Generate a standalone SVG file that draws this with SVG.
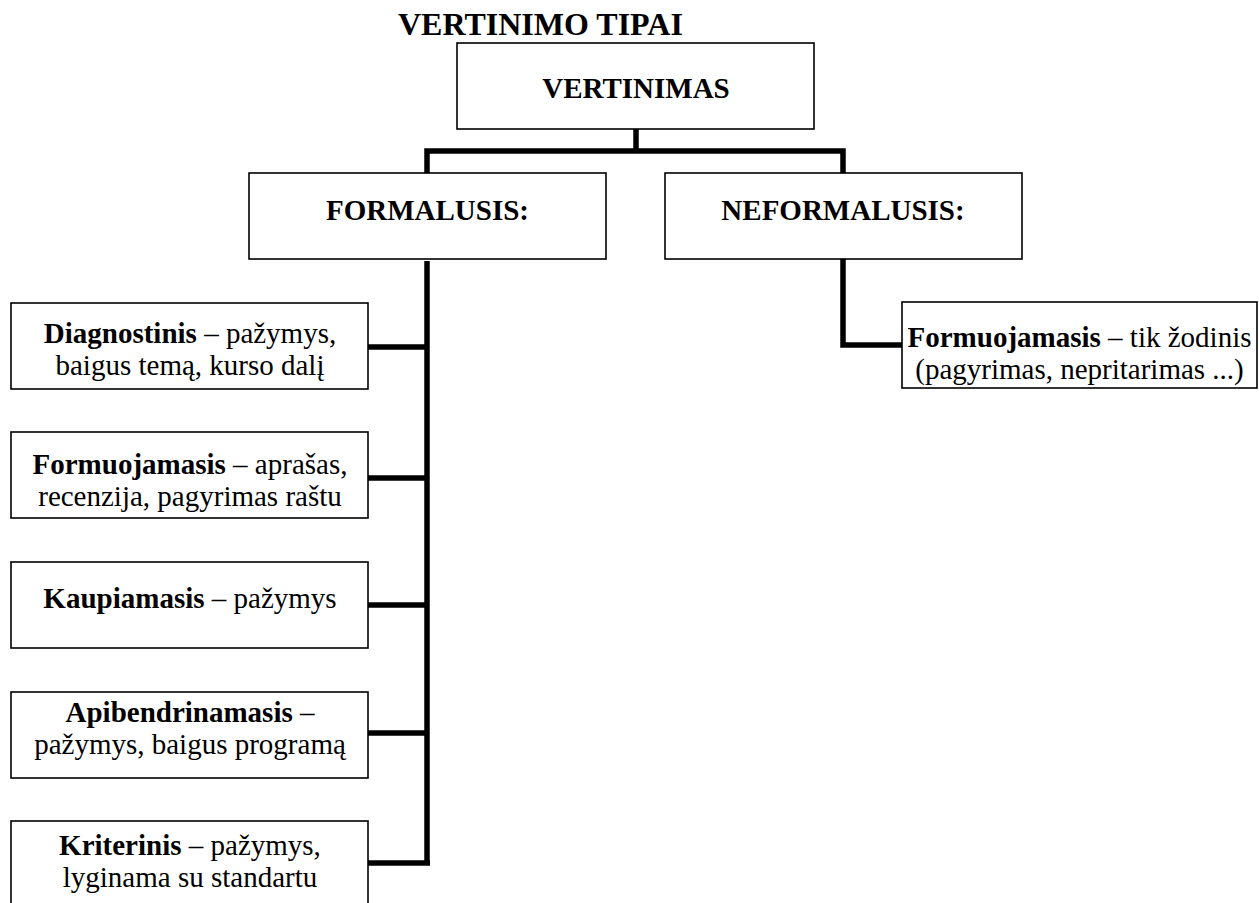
<svg xmlns="http://www.w3.org/2000/svg" width="1259" height="903" viewBox="0 0 1259 903">
<style>
text{font-family:'Liberation Serif','Times New Roman','DejaVu Serif',serif;fill:#000}
.t{font-size:29px;text-anchor:middle}
.h{font-size:29px;font-weight:bold;text-anchor:middle}
.b{font-weight:bold}
.box{fill:#fff;stroke:#000;stroke-width:1.6}
.con{fill:none;stroke:#000;stroke-width:5.5;stroke-linejoin:miter;stroke-linecap:butt}
</style>
<rect width="1259" height="903" fill="#fff"/>
<text x="398" y="35" style="font-size:32px;font-weight:bold">VERTINIMO TIPAI</text>
<g id="connectors">
<path class="con" d="M636 129V151"/>
<path class="con" d="M427 173V151H843V173"/>
<path class="con" d="M427 261V865"/>
<path class="con" d="M368 347H427M368 478H427M368 605H427M368 733H427M368 863H430"/>
<path class="con" d="M843 258V345H902"/>
</g>
<g id="vertinimas">
<rect class="box" x="457" y="43" width="357" height="86"/>
<text class="h" x="636" y="98">VERTINIMAS</text>
</g>
<g id="formalusis">
<rect class="box" x="249" y="173" width="357" height="86"/>
<text class="h" x="427.5" y="220">FORMALUSIS:</text>
</g>
<g id="neformalusis">
<rect class="box" x="665" y="173" width="357" height="86"/>
<text class="h" x="843" y="220">NEFORMALUSIS:</text>
</g>
<g id="diagnostinis">
<rect class="box" x="11" y="303" width="357" height="86"/>
<text class="t" x="190" y="343"><tspan class="b">Diagnostinis</tspan> – pažymys,</text>
<text class="t" x="190" y="375">baigus temą, kurso dalį</text>
</g>
<g id="formuojamasis1">
<rect class="box" x="11" y="432" width="357" height="86"/>
<text class="t" x="190" y="474"><tspan class="b">Formuojamasis</tspan> – aprašas,</text>
<text class="t" x="190" y="506">recenzija, pagyrimas raštu</text>
</g>
<g id="kaupiamasis">
<rect class="box" x="11" y="562" width="357" height="86"/>
<text class="t" x="190" y="608"><tspan class="b">Kaupiamasis</tspan> – pažymys</text>
</g>
<g id="apibendrinamasis">
<rect class="box" x="11" y="692" width="357" height="86"/>
<text class="t" x="190" y="722"><tspan class="b">Apibendrinamasis</tspan> –</text>
<text class="t" x="190" y="754">pažymys, baigus programą</text>
</g>
<g id="kriterinis">
<rect class="box" x="11" y="821" width="357" height="95"/>
<text class="t" x="190" y="855"><tspan class="b">Kriterinis</tspan> – pažymys,</text>
<text class="t" x="190" y="887">lyginama su standartu</text>
</g>
<g id="formuojamasis2">
<rect class="box" x="902" y="302" width="355" height="86"/>
<text class="t" x="1079.5" y="347"><tspan class="b">Formuojamasis</tspan> – tik žodinis</text>
<text class="t" x="1079.5" y="379">(pagyrimas, nepritarimas ...)</text>
</g>
</svg>
